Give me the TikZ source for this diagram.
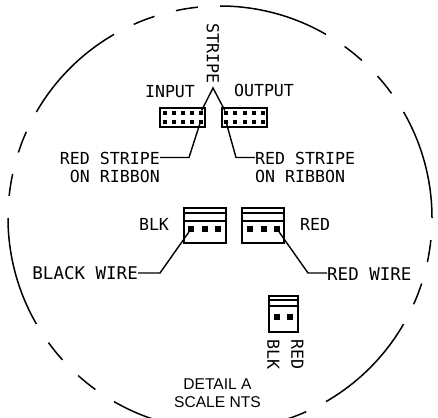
\documentclass[tikz,border=0pt]{standalone}
\usepackage{fontspec}
\newfontfamily\cadfont{DejaVu Sans Mono}
\newfontfamily\notefont{Liberation Sans}
\tikzset{
    cadtext/.style={inner sep=0pt,font=\cadfont\fontsize{16.6}{18}\selectfont},
    wiretext/.style={inner sep=0pt,font=\cadfont\fontsize{17.5}{18}\selectfont},
    notetext/.style={inner sep=0pt,font=\notefont\fontsize{15.6}{18}\selectfont},
    outline/.style={draw,line width=1.7pt,inner sep=0pt,minimum width=#1},
    hdrpin/.style={fill,inner sep=0pt,minimum size=4pt},
    wirepin/.style={fill,inner sep=0pt,minimum width=6pt,minimum height=5.5pt},
    lead/.style={line width=1.4pt}
}
\begin{document}
\begin{tikzpicture}[x=1pt,y=1pt]
    \clip (0,0) rectangle (438,-417);

    % detail circle
    \foreach \a in {0,60,...,300} {
        \draw[line width=1.5pt] (220,-218) ++(\a:212) arc[start angle=\a,delta angle=30,radius=212];
        \draw[line width=1.5pt] (220,-218) ++(\a+36:212) arc[start angle=\a+36,delta angle=6,radius=212];
        \draw[line width=1.5pt] (220,-218) ++(\a+48:212) arc[start angle=\a+48,delta angle=6,radius=212];
    }

    \node[cadtext,rotate=-90] (stripe) at (213,-53.5) {STRIPE};
    \node[cadtext] (input) at (170,-92) {INPUT};
    \node[cadtext] (output) at (264,-90.5) {OUTPUT};

    % ribbon headers
    \node[outline=45pt,minimum height=19pt] (hdrin) at (182.5,-117.5) {};
    \node[outline=45pt,minimum height=19pt] (hdrout) at (244.5,-117.5) {};
    \foreach \i/\x in {1/164.5,2/173.5,3/182.5,4/191.5,5/200.5} {
        \node[hdrpin] (int\i) at (\x,-112.7) {};
        \node[hdrpin] (inb\i) at (\x,-121.7) {};
    }
    \foreach \i/\x in {1/226,2/235,3/244.5,4/253.5,5/262.5} {
        \node[hdrpin] (outt\i) at (\x,-112.7) {};
        \node[hdrpin] (outb\i) at (\x,-121.7) {};
    }

    \coordinate (apex) at (213,-88);
    \draw[lead] (int5) -- (apex) -- (outt1);

    \node[cadtext,anchor=east] (redl) at (160,-158) {RED STRIPE};
    \node[cadtext,anchor=east] (ribl) at (160,-176) {ON RIBBON};
    \node[cadtext,anchor=west] (redr) at (255,-158) {RED STRIPE};
    \node[cadtext,anchor=west] (ribr) at (255,-176) {ON RIBBON};
    \coordinate (bendl) at (189,-157.5);
    \coordinate (bendr) at (236,-157.5);
    \draw[lead] (inb5) -- (bendl) -- (bendl -| redl.east);
    \draw[lead] (outb1) -- (bendr) -- (bendr -| redr.west);

    % large connectors
    \node[outline=42pt,minimum height=35pt] (blkbox) at (205,-225.5) {};
    \node[outline=42pt,minimum height=35pt] (redbox) at (263,-225.5) {};
    \draw[line width=1.1pt] (184,-213) -- (226,-213) (242,-213) -- (284,-213);
    \draw[line width=1.7pt] (184,-220.8) -- (226,-220.8) (242,-220.8) -- (284,-220.8);
    \foreach \i/\x in {1/191,2/205,3/218} {
        \node[wirepin] (blk\i) at (\x,-229) {};
    }
    \foreach \i/\x in {1/250,2/263.5,3/277} {
        \node[wirepin] (red\i) at (\x,-229) {};
    }
    \node[cadtext] (blklbl) at (154,-224.5) {BLK};
    \node[cadtext] (redlbl) at (315,-224) {RED};
    \node[wiretext,anchor=east] (blkwire) at (138,-273) {BLACK WIRE};
    \node[wiretext,anchor=west] (redwire) at (327,-274) {RED WIRE};
    \coordinate (bendb) at (160,-273);
    \coordinate (bendw) at (308,-273);
    \draw[lead] (blk1) -- (bendb) -- (bendb -| blkwire.east);
    \draw[lead] (red3) -- (bendw) -- (bendw -| redwire.west);

    % small connector
    \node[outline=29pt,minimum height=36pt] (smallbox) at (283.5,-314) {};
    \draw[line width=1.1pt] (269,-300) -- (298,-300);
    \draw[line width=1.7pt] (269,-306) -- (298,-306);
    \node[wirepin] (sp1) at (277,-317) {};
    \node[wirepin] (sp2) at (290,-317) {};
    \node[cadtext,rotate=-90] (sblk) at (273.5,-354.5) {BLK};
    \node[cadtext,rotate=-90] (sred) at (297.5,-354.5) {RED};

    \node[notetext] (detail) at (217.5,-384) {DETAIL A};
    \node[notetext] (scale) at (217.5,-402) {SCALE NTS};
\end{tikzpicture}
\end{document}
